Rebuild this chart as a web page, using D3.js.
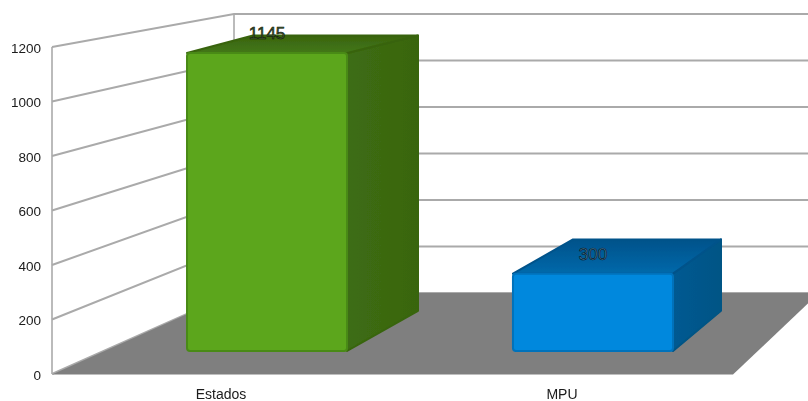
<!DOCTYPE html>
<html><head><meta charset="utf-8">
<style>html,body{margin:0;padding:0;background:#fff}svg{display:block}</style>
<script src="https://cdn.jsdelivr.net/npm/d3@7"></script></head><body>
<svg id="c" width="808" height="401"></svg>
<script>
const categories = ["Estados", "MPU"];
const values = [1145, 300];
const ticks = [0, 200, 400, 600, 800, 1000, 1200];
const faceColors = [
  {front:"#5ba61e", edge:"#4a8a18", topA:"#39640f", topB:"#437716", sideA:"#3d6d13", sideB:"#39650f", label:"#3f5f2a"},
  {front:"#0088dd", edge:"#0072bb", topA:"#00528a", topB:"#0069ab", sideA:"#005a92", sideB:"#005485", label:"#3f7fa8"}
];
const fmt = d3.format("d");
const svg = d3.select("#c");
const font = "'Liberation Sans', Arial, sans-serif";

const yFront = d3.scaleLinear().domain([0,1200]).range([374,47]);
const yBack  = d3.scaleLinear().domain([0,1200]).range([293,14]);
const wallFrontX = 52, wallBackX = 234;
const tFront = 0.284, tRear = 0.78;
const yAt = (v,t) => yFront(v) + (yBack(v)-yFront(v))*t;
const xFrontBar = d3.scaleBand().domain(categories).range([187,673]).paddingInner(0.509).paddingOuter(0);
const xRearBar = d3.scaleLinear().domain([0,1,2,3]).range([253,418,573,721]);

const defs = svg.append("defs");
faceColors.forEach((c,i)=>{
  const g = defs.append("linearGradient").attr("id","top"+i).attr("x1",0).attr("x2",0).attr("y1",0).attr("y2",1);
  g.append("stop").attr("offset",0).attr("stop-color",c.topA);
  g.append("stop").attr("offset",1).attr("stop-color",c.topB);
  const s = defs.append("linearGradient").attr("id","side"+i).attr("x1",0).attr("x2",1).attr("y1",0).attr("y2",0);
  s.append("stop").attr("offset",0).attr("stop-color",c.sideA);
  s.append("stop").attr("offset",1).attr("stop-color",c.sideB);
});
const f = defs.append("filter").attr("id","soft").attr("x",0).attr("y",0).attr("width","100%").attr("height","100%");
f.append("feGaussianBlur").attr("stdDeviation",0.45);

const root = svg.append("g").attr("filter","url(#soft)");
root.append("rect").attr("width",808).attr("height",401).attr("fill","#fff");

const gridColor = "#aaaaaa";
const grid = root.append("g").attr("stroke",gridColor).attr("fill","none");
grid.selectAll("path.g").data(ticks).join("path").attr("class","g")
  .attr("stroke-width",2)
  .attr("d",v=>d3.line()([[wallFrontX,yFront(v)],[wallBackX,yBack(v)],[810,yBack(v)]]));
grid.append("path").attr("stroke-width",1.6).attr("d",d3.line()([[wallFrontX,yFront(0)],[wallFrontX,yFront(1200)]]));
grid.append("path").attr("stroke-width",1.6).attr("d",d3.line()([[wallBackX,yBack(0)],[wallBackX,yBack(1200)]]));

root.append("path").attr("fill","#7f7f7f")
  .attr("d",d3.line()([[wallFrontX,yFront(0)+0.5],[wallBackX,yBack(0)],[819,yBack(0)],[733,yFront(0)+0.5]])+"Z");

const rows = categories.map((c,i)=>({c,i,v:values[i]}));
const bars = root.selectAll("g.bar").data(rows).join("g").attr("class","bar");
const geom = d => {
  const fl = xFrontBar(d.c), fr = fl + xFrontBar.bandwidth();
  const rl = xRearBar(d.i*2), rr = xRearBar(d.i*2+1);
  return {fl,fr,rl,rr,
    fb:yAt(0,tFront), ft:yAt(d.v,tFront)+1, rb:yAt(0,tRear), rt:yAt(d.v,tRear)+1};
};
bars.append("path").attr("fill",d=>`url(#side${d.i})`).attr("stroke",d=>faceColors[d.i].sideB).attr("stroke-width",2).attr("stroke-linejoin","round")
  .attr("d",d=>{const g=geom(d);return d3.line()([[g.fr,g.ft],[g.rr,g.rt],[g.rr,g.rb],[g.fr,g.fb]])+"Z";});
bars.append("path").attr("fill",d=>`url(#top${d.i})`).attr("stroke",d=>faceColors[d.i].topA).attr("stroke-width",2).attr("stroke-linejoin","round")
  .attr("d",d=>{const g=geom(d);return d3.line()([[g.fl,g.ft],[g.rl,g.rt],[g.rr,g.rt],[g.fr,g.ft]])+"Z";});
bars.append("rect").attr("fill",d=>faceColors[d.i].front).attr("stroke",d=>faceColors[d.i].edge).attr("stroke-width",2).attr("rx",3)
  .attr("x",d=>geom(d).fl).attr("y",d=>geom(d).ft)
  .attr("width",d=>geom(d).fr-geom(d).fl).attr("height",d=>geom(d).fb-geom(d).ft);

root.append("g").selectAll("text").data(ticks).join("text").text(fmt)
  .attr("x",41).attr("y",v=>yFront(v)+5.5).attr("text-anchor","end")
  .attr("font-family",font).attr("font-size",13.5).attr("fill","#1a1a1a");
root.append("g").selectAll("text").data(categories).join("text").text(d=>d)
  .attr("x",(d,i)=>xFrontBar(d)+xFrontBar.bandwidth()/2-(i?31:46)).attr("y",399).attr("text-anchor","middle")
  .attr("font-family",font).attr("font-size",14).attr("fill","#1a1a1a");

// value labels stay crisp, as outlined glyphs above the blur
svg.append("g").selectAll("text").data(rows).join("text").text(d=>fmt(d.v))
  .attr("x",d=>{const g=geom(d);return (g.fl+g.fr)/2;})
  .attr("y",d=>yAt(d.v,tFront)-13)
  .attr("font-family",font).attr("font-size",17)
  .attr("fill",d=>faceColors[d.i].label).attr("stroke","#0c0c0c").attr("stroke-width",0.55)
  .attr("text-anchor","middle");
</script></body></html>
